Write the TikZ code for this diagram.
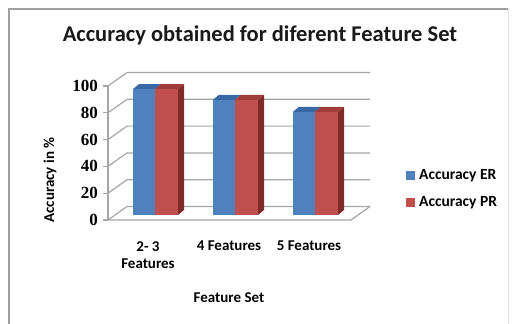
\documentclass[tikz,border=0pt]{standalone}
\usepackage{fontspec}
\setmainfont{Carlito}
\newfontfamily\numfont{Liberation Serif}
\definecolor{barblue}{HTML}{4F81BD}
\definecolor{barbluetop}{HTML}{3A67A5}
\definecolor{barred}{HTML}{C0504D}
\definecolor{barredtop}{HTML}{A03C39}
\definecolor{barredside}{HTML}{7F2C29}
\definecolor{gridgray}{HTML}{A6A6A6}
\tikzset{
  gridline/.style={draw=gridgray, line width=1.2pt},
  ticklbl/.style={font=\numfont\bfseries\fontsize{17}{17}\selectfont, anchor=east, inner sep=0pt},
  catlbl/.style={font=\bfseries\fontsize{15}{17}\selectfont, align=center, inner sep=0pt},
  legtxt/.style={font=\bfseries\fontsize{15.5}{15.5}\selectfont, anchor=west, inner sep=0pt},
}
\begin{document}
\begin{tikzpicture}[x=1pt,y=-1pt]
\useasboundingbox (0,0) rectangle (512,324);
% frame
\draw[gray!75, line width=1.5pt] (9,330) -- (9,9) -- (508,9);
\draw[gray!25, line width=1pt] (508,9) -- (508,330);
% title
\node[font=\bfseries\fontsize{22.5}{22.5}\selectfont, text=black!90, inner sep=0pt] (title) at (260,35) {Accuracy obtained for diferent Feature Set};
% gridlines and ticks
\foreach \v in {0,20,...,100} {
  \pgfmathsetmacro{\yf}{220-1.34*\v}
  \pgfmathsetmacro{\yb}{206.5-1.34*\v}
  \draw[gridline] (108,\yf) -- (127,\yb) -- (370,\yb);
  \draw[gridline] (103,\yf) -- (108,\yf);
  \node[ticklbl] (t\v) at (98,\yf) {\v};
}
\draw[gridline] (108,220) -- (108,86);
\draw[gridline] (108,220) -- (351,220) -- (370,206.5);
% bars
\foreach \bx/\val/\n in {133/94/1, 213/86/2, 293/77/3} {
  \pgfmathsetmacro{\ytop}{215-1.34*\val}
  \pgfmathsetmacro{\bm}{\bx+22}
  \pgfmathsetmacro{\br}{\bx+45}
  % red side
  \fill[barredside] (\br,215) -- (\br+6,210) -- (\br+6,\ytop-5) -- (\br,\ytop) -- cycle;
  % tops
  \fill[barbluetop] (\bx,\ytop) -- (\bx+6,\ytop-5) -- (\bm+6,\ytop-5) -- (\bm,\ytop) -- cycle;
  \fill[barredtop] (\bm,\ytop) -- (\bm+6,\ytop-5) -- (\br+6,\ytop-5) -- (\br,\ytop) -- cycle;
  % fronts
  \fill[barblue] (\bx,215) rectangle (\bm,\ytop);
  \fill[barred] (\bm,215) rectangle (\br,\ytop);
}
% category labels
\node[catlbl] (c1) at (148,255) {2- 3\\Features};
\node[catlbl] (c2) at (229,246) {4 Features};
\node[catlbl] (c3) at (309,246) {5 Features};
\node[catlbl] (xt) at (229,298) {Feature Set};
\node[catlbl, rotate=90] (yt) at (50,180) {Accuracy in \%};
% legend
\fill[barblue] (406,171) rectangle (415,180);
\node[legtxt] (l1) at (419,175.5) {Accuracy ER};
\fill[barred] (406,198) rectangle (415,207);
\node[legtxt] (l2) at (419,202.5) {Accuracy PR};
\end{tikzpicture}
\end{document}
